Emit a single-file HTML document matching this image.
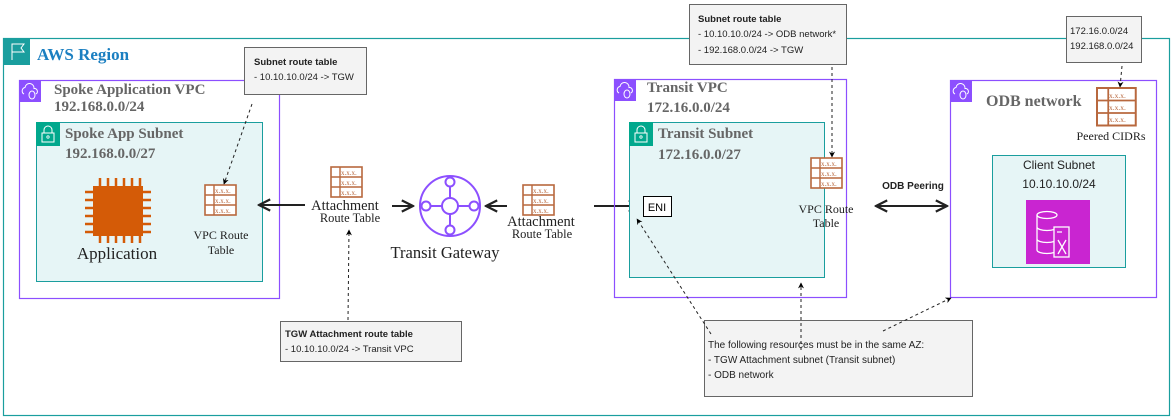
<!DOCTYPE html>
<html><head><meta charset="utf-8"><style>
body{margin:0;background:#fff;width:1175px;height:418px;overflow:hidden}
svg{display:block}
.t{font-family:"Liberation Serif",serif}
.s{font-family:"Liberation Sans",sans-serif}
</style></head><body>
<svg width="1175" height="418" viewBox="0 0 1175 418" xmlns="http://www.w3.org/2000/svg">
<defs>
<marker id="ah" viewBox="0 0 10 10" refX="9" refY="5" markerWidth="7" markerHeight="7" orient="auto-start-reverse"><path d="M1,1 L9,5 L1,9" fill="none" stroke="#222" stroke-width="1.6"/></marker>
<marker id="dh" viewBox="0 0 10 10" refX="9" refY="5" markerWidth="6" markerHeight="6" orient="auto"><path d="M0,0 L10,5 L0,10 L3,5 Z" fill="#000"/></marker>
<g id="rt">
<rect x="0" y="0" width="31" height="30" fill="#fff" stroke="#b8683e" stroke-width="1.6"/>
<line x1="0" y1="10" x2="31" y2="10" stroke="#b8683e" stroke-width="1.4"/>
<line x1="0" y1="20" x2="31" y2="20" stroke="#b8683e" stroke-width="1.4"/>
<line x1="9" y1="0" x2="9" y2="30" stroke="#b8683e" stroke-width="1.4"/>
</g>
<g id="vpcicon">
<rect x="0" y="0" width="22" height="22" fill="#8c4fff"/>
<path d="M5,14 a3.5,3.5 0 0 1 1,-6.5 a4.5,4.5 0 0 1 9,1 a3,3 0 0 1 2,5.5" fill="none" stroke="#fff" stroke-width="1"/>
<ellipse cx="13" cy="15" rx="3" ry="4" fill="none" stroke="#fff" stroke-width="1"/>
</g>
<g id="lock">
<rect x="0" y="0" width="24" height="24" fill="#01a88d"/>
<rect x="6" y="11" width="12" height="9" fill="none" stroke="#fff" stroke-width="1"/>
<path d="M8,11 v-3 a4,4 0 0 1 8,0 v3" fill="none" stroke="#fff" stroke-width="1"/>
<circle cx="12" cy="15" r="1.2" fill="none" stroke="#fff" stroke-width="0.8"/>
</g>
</defs>

<!-- AWS Region -->
<rect x="3.5" y="38.5" width="1166" height="377" fill="none" stroke="#1a9e9e" stroke-width="1.2"/>
<rect x="3" y="38" width="27" height="27" fill="#1a9e9e"/>
<path d="M12,60 V44 H24 L21,48 L24,52 H12" fill="none" stroke="#fff" stroke-width="1"/>
<text x="37" y="60" class="t" font-size="17" font-weight="bold" fill="#1b7fc1">AWS Region</text>

<!-- Spoke VPC -->
<rect x="19.5" y="80.5" width="260" height="218" fill="none" stroke="#8c4fff" stroke-width="1.2"/>
<use href="#vpcicon" x="19" y="80"/>
<text x="54" y="94" class="t" font-size="15" font-weight="bold" fill="#666">Spoke Application VPC</text>
<text x="54" y="111" class="t" font-size="15" font-weight="bold" fill="#666">192.168.0.0/24</text>
<rect x="36.5" y="122.5" width="226" height="159" fill="#e6f5f6" stroke="#1a9e9e" stroke-width="1"/>
<use href="#lock" x="36" y="122"/>
<text x="65" y="138" class="t" font-size="15" font-weight="bold" fill="#666">Spoke App Subnet</text>
<text x="65" y="158" class="t" font-size="15" font-weight="bold" fill="#666">192.168.0.0/27</text>
<!-- chip -->
<g fill="#d45b07">
<rect x="93" y="186" width="50" height="50"/>
<g stroke="#d45b07" stroke-width="2.5">
<path d="M100,178v8 M108,178v8 M116,178v8 M124,178v8 M132,178v8 M140,178v8"/>
<path d="M100,236v7 M108,236v7 M116,236v7 M124,236v7 M132,236v7 M140,236v7"/>
<path d="M85,192h8 M85,200h8 M85,208h8 M85,216h8 M85,224h8 M85,232h8"/>
<path d="M143,192h8 M143,200h8 M143,208h8 M143,216h8 M143,224h8 M143,232h8"/>
</g></g>
<text x="117" y="259" class="t" font-size="17" text-anchor="middle" fill="#222">Application</text>
<use href="#rt" x="205" y="185"/>
<g class="t" font-size="7" fill="#b8683e"><text x="215" y="193">x.x.x.</text><text x="215" y="203">x.x.x.</text><text x="215" y="213">x.x.x.</text></g>
<text x="221" y="239" class="t" font-size="12" text-anchor="middle" fill="#222">VPC Route</text>
<text x="221" y="254" class="t" font-size="12" text-anchor="middle" fill="#222">Table</text>

<!-- Spoke note -->
<rect x="244.5" y="47.5" width="122" height="47" fill="#f3f3f3" stroke="#666"/>
<text x="254" y="65" class="s" font-size="9.5" font-weight="bold" fill="#222">Subnet route table</text>
<text x="254" y="80" class="s" font-size="9.5" fill="#222">- 10.10.10.0/24 -&gt; TGW</text>
<line x1="252" y1="104" x2="224" y2="184" stroke="#222" stroke-dasharray="3,3" marker-end="url(#dh)"/>

<!-- Left attachment -->
<line x1="305" y1="205" x2="259" y2="205" stroke="#222" stroke-width="2" marker-end="url(#ah)"/>
<use href="#rt" x="331" y="167"/>
<g class="t" font-size="7" fill="#b8683e"><text x="341" y="175">x.x.x.</text><text x="341" y="185">x.x.x.</text><text x="341" y="195">x.x.x.</text></g>
<text x="345" y="210" class="t" font-size="14.5" text-anchor="middle" fill="#222">Attachment</text>
<text x="350" y="222" class="t" font-size="12.5" text-anchor="middle" fill="#222">Route Table</text>
<line x1="392" y1="206" x2="413" y2="206" stroke="#222" stroke-width="2" marker-end="url(#ah)"/>
<line x1="348" y1="320" x2="349" y2="230" stroke="#222" stroke-dasharray="3,3" marker-end="url(#dh)"/>

<!-- TGW -->
<g stroke="#8c4fff" stroke-width="2" fill="none">
<circle cx="450" cy="206" r="30"/>
<circle cx="450" cy="206" r="8"/>
<circle cx="450" cy="182" r="4.5"/><circle cx="450" cy="230" r="4.5"/>
<circle cx="426" cy="206" r="4.5"/><circle cx="474" cy="206" r="4.5"/>
<path d="M450,186.5v11.5 M450,214v11.5 M430.5,206h11.5 M458,206h11.5"/>
</g>
<text x="445" y="258" class="t" font-size="16.5" text-anchor="middle" fill="#222">Transit Gateway</text>

<!-- Right attachment -->
<line x1="507" y1="206" x2="486" y2="206" stroke="#222" stroke-width="2" marker-end="url(#ah)"/>
<use href="#rt" x="523" y="185"/>
<g class="t" font-size="7" fill="#b8683e"><text x="533" y="193">x.x.x.</text><text x="533" y="203">x.x.x.</text><text x="533" y="213">x.x.x.</text></g>
<text x="541" y="226" class="t" font-size="14.5" text-anchor="middle" fill="#222">Attachment</text>
<text x="542" y="238" class="t" font-size="12.5" text-anchor="middle" fill="#222">Route Table</text>
<line x1="594" y1="206" x2="640" y2="206" stroke="#222" stroke-width="2" marker-end="url(#ah)"/>

<!-- TGW note -->
<rect x="280.5" y="321.5" width="181" height="40" fill="#f3f3f3" stroke="#666"/>
<text x="285" y="337" class="s" font-size="9.5" font-weight="bold" fill="#222">TGW Attachment route table</text>
<text x="285" y="352" class="s" font-size="9.5" fill="#222">- 10.10.10.0/24 -&gt; Transit VPC</text>

<!-- Transit VPC -->
<rect x="614.5" y="79.5" width="232" height="218" fill="none" stroke="#8c4fff" stroke-width="1.2"/>
<use href="#vpcicon" x="614" y="79"/>
<text x="647" y="92" class="t" font-size="15" font-weight="bold" fill="#666">Transit VPC</text>
<text x="647" y="112" class="t" font-size="15" font-weight="bold" fill="#666">172.16.0.0/24</text>
<rect x="629.5" y="122.5" width="195" height="155" fill="#e6f5f6" stroke="#1a9e9e" stroke-width="1"/>
<use href="#lock" x="629" y="122"/>
<text x="658" y="138" class="t" font-size="15" font-weight="bold" fill="#666">Transit Subnet</text>
<text x="658" y="159" class="t" font-size="15" font-weight="bold" fill="#666">172.16.0.0/27</text>
<rect x="643.5" y="196.5" width="28" height="20" fill="#fff" stroke="#000"/>
<text x="657" y="211" class="s" font-size="11" text-anchor="middle" fill="#000">ENI</text>
<use href="#rt" x="811" y="158"/>
<g class="t" font-size="7" fill="#b8683e"><text x="821" y="166">x.x.x.</text><text x="821" y="176">x.x.x.</text><text x="821" y="186">x.x.x.</text></g>
<text x="826" y="213" class="t" font-size="12" text-anchor="middle" fill="#222">VPC Route</text>
<text x="826" y="227" class="t" font-size="12" text-anchor="middle" fill="#222">Table</text>

<!-- Transit note -->
<rect x="689.5" y="4.5" width="157" height="60" fill="#f3f3f3" stroke="#666"/>
<text x="698" y="22" class="s" font-size="9.5" font-weight="bold" fill="#222">Subnet route table</text>
<text x="698" y="37" class="s" font-size="9.5" fill="#222">- 10.10.10.0/24 -&gt; ODB network*</text>
<text x="698" y="53" class="s" font-size="9.5" fill="#222">- 192.168.0.0/24 -&gt; TGW</text>
<line x1="832" y1="67" x2="832" y2="157" stroke="#222" stroke-dasharray="3,3" marker-end="url(#dh)"/>

<!-- ODB peering -->
<line x1="876" y1="206" x2="947" y2="206" stroke="#222" stroke-width="2" marker-start="url(#ah)" marker-end="url(#ah)"/>
<text x="913" y="189" class="s" font-size="10" font-weight="bold" text-anchor="middle" fill="#222">ODB Peering</text>

<!-- ODB network -->
<rect x="950.5" y="80.5" width="206" height="217" fill="none" stroke="#8c4fff" stroke-width="1.2"/>
<use href="#vpcicon" x="950" y="80"/>
<text x="986" y="106" class="t" font-size="16" font-weight="bold" fill="#666">ODB network</text>
<g transform="translate(1097,88) scale(1.25)"><use href="#rt"/></g>
<g class="t" font-size="7.5" fill="#b8683e"><text x="1109" y="98">x.x.x.</text><text x="1109" y="110">x.x.x.</text><text x="1109" y="122">x.x.x.</text></g>
<text x="1111" y="140" class="t" font-size="12" text-anchor="middle" fill="#222">Peered CIDRs</text>
<rect x="992.5" y="155.5" width="133" height="112" fill="#e6f5f6" stroke="#1a9e9e" stroke-width="1"/>
<text x="1059" y="169" class="s" font-size="12" text-anchor="middle" fill="#222">Client Subnet</text>
<text x="1059" y="188" class="s" font-size="12" text-anchor="middle" fill="#222">10.10.10.0/24</text>
<rect x="1026" y="200" width="64" height="64" fill="#c925d1"/>
<g fill="none" stroke="#fff" stroke-width="1.3">
<ellipse cx="1047" cy="215" rx="10" ry="3.5"/>
<path d="M1037,215 v35 a10,3.5 0 0 0 20,0 M1037,227 a10,3.5 0 0 0 20,0 M1037,239 a10,3.5 0 0 0 20,0"/>
<rect x="1054" y="227" width="15" height="30" fill="#c925d1"/>
<path d="M1057,232 h5 M1058,240 l8,14 M1066,240 l-8,14"/>
</g>

<!-- Peered note -->
<rect x="1066.5" y="16.5" width="75" height="46" fill="#f3f3f3" stroke="#666"/>
<text x="1070" y="34" class="s" font-size="9.5" fill="#222">172.16.0.0/24</text>
<text x="1070" y="49" class="s" font-size="9.5" fill="#222">192.168.0.0/24</text>
<line x1="1122" y1="66" x2="1120" y2="87" stroke="#222" stroke-dasharray="3,3" marker-end="url(#dh)"/>

<!-- AZ note -->
<rect x="704.5" y="320.5" width="268" height="76" fill="#f3f3f3" stroke="#666"/>
<text x="708" y="348" class="s" font-size="10" fill="#222">The following resources must be in the same AZ:</text>
<text x="708" y="363" class="s" font-size="10" fill="#222">- TGW Attachment subnet (Transit subnet)</text>
<text x="708" y="378" class="s" font-size="10" fill="#222">- ODB network</text>
<line x1="711" y1="334" x2="637" y2="219" stroke="#222" stroke-dasharray="3,3" marker-end="url(#dh)"/>
<line x1="801" y1="350" x2="801" y2="283" stroke="#222" stroke-dasharray="3,3" marker-end="url(#dh)"/>
<line x1="883" y1="331" x2="951" y2="298" stroke="#222" stroke-dasharray="3,3" marker-end="url(#dh)"/>
</svg>
</body></html>
